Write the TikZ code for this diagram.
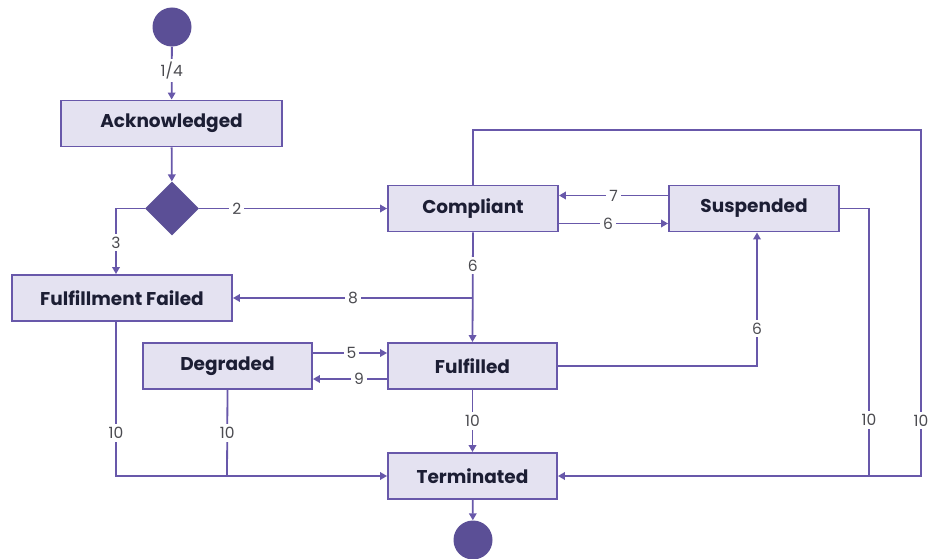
\documentclass[tikz,border=0pt]{standalone}
\usepackage{fontspec}
\setmainfont{Poppins}
\usetikzlibrary{arrows.meta,shapes.geometric}
\definecolor{edgecol}{RGB}{104,88,170}
\definecolor{boxfill}{RGB}{228,226,241}
\definecolor{darkfill}{RGB}{91,79,150}
\definecolor{txtcol}{RGB}{28,30,52}
\definecolor{lblcol}{RGB}{75,75,80}
\tikzset{
  state/.style={draw=edgecol, line width=1.9pt, fill=boxfill, inner sep=0pt,
    minimum height=46pt, text=txtcol, font=\fontsize{18.5}{20}\selectfont\bfseries},
  dot/.style={circle, fill=darkfill, minimum size=39pt, inner sep=0pt},
  choice/.style={diamond, fill=darkfill, minimum width=54pt, minimum height=54pt, inner sep=0pt},
  conn/.style={draw=edgecol, line width=1.8pt},
  arr/.style={conn, -{Triangle[length=7pt,width=7.5pt]}},
  lbl/.style={fill=white, text=lblcol, inner sep=3pt, font=\fontsize{15.5}{17}\selectfont}
}
\begin{document}
\begin{tikzpicture}[x=1pt,y=-1pt]
\useasboundingbox (0,0) rectangle (930,559);

% states
\node[dot] (start) at (172,27) {};
\node[state, minimum width=221pt] (ack) at (171.5,123.5) {Acknowledged};
\node[choice] (dec) at (172,208.5) {};
\node[state, minimum width=170pt] (comp) at (473,208.5) {Compliant};
\node[state, minimum width=170pt] (susp) at (754,208.5) {Suspended};
\node[state, minimum width=220pt] (ffail) at (122,298) {Fulfillment Failed};
\node[state, minimum width=169pt] (degr) at (227.5,366) {Degraded};
\node[state, minimum width=169pt] (fulf) at (472.5,366) {Fulfilled};
\node[state, minimum width=169pt] (term) at (472.5,476) {Terminated};
\node[dot] (end) at (473,540) {};

% junction points
\coordinate (j8) at (473,298);
\coordinate (jd) at (227,476);
\coordinate (js) at (869,476);

% transitions
\draw[arr] (start) -- node[lbl, pos=0.45] {1/4} (ack);
\draw[arr] (ack) -- (dec);
\draw[arr] (dec.east) -- node[lbl, pos=0.2] {2} (comp.west);
\draw[arr] (dec.west) -| node[lbl, pos=0.76] {3} ([xshift=-6pt]ffail.north);
\draw[arr] ([yshift=13pt]susp.west) -- node[lbl, pos=0.5] {7} ([yshift=13pt]comp.east);
\draw[arr] ([yshift=-15pt]comp.east) -- node[lbl, pos=0.45] {6} ([yshift=-15pt]susp.west);
\draw[arr] (comp.south) -- node[lbl, pos=0.3] {6} (fulf.north);
\draw[arr] (j8) -- node[lbl] {8} (ffail.east);
\draw[arr] ([yshift=13pt]degr.east) -- node[lbl, pos=0.52] {5} ([yshift=13pt]fulf.west);
\draw[arr] ([yshift=-13pt]fulf.west) -- node[lbl, pos=0.38] {9} ([yshift=-13pt]degr.east);
\draw[arr] (fulf.east) -| node[lbl, pos=0.64] {6} ([xshift=3pt]susp.south);
\draw[arr] (fulf) -- node[lbl] {10} (term);
\draw[arr] ([xshift=-6pt]ffail.south) |- node[lbl, pos=0.36] {10} (term.west);
\draw[conn] (degr.south) -- node[lbl, pos=0.5] {10} (jd);
\draw[arr] (comp.north) |- (921,130) -- node[lbl, pos=0.84] {10} (921,476) -- (term.east);
\draw[conn] (susp.east) -| node[lbl, pos=0.895] {10} (js);
\draw[arr] (term) -- (end);
\end{tikzpicture}
\end{document}
